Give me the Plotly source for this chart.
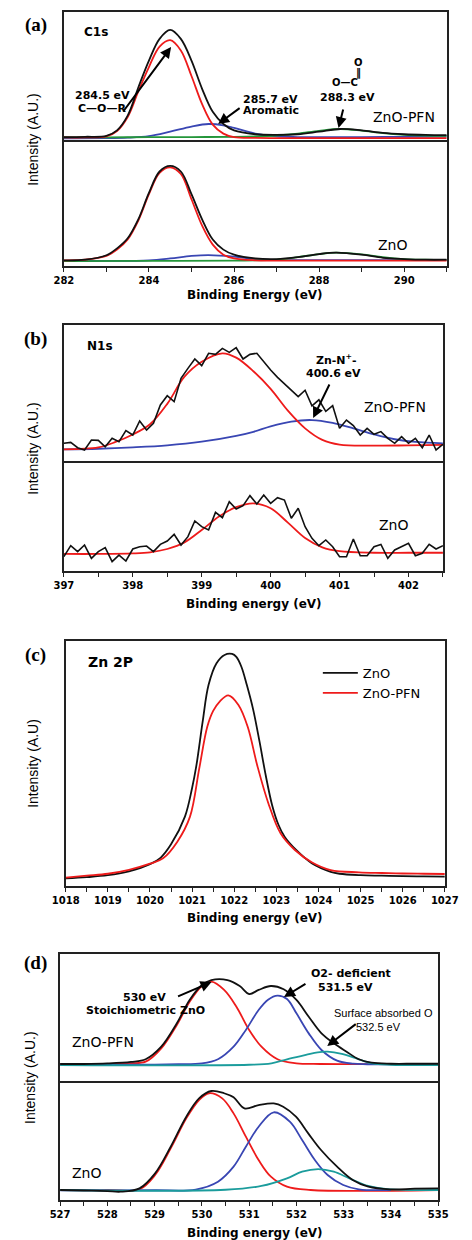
import plotly.graph_objects as go

# ---------------- Panel (a) C1s ----------------
a_top_black_x = [282.0, 282.5, 283.0, 283.25, 283.5, 283.75, 284.0, 284.25, 284.5, 284.75, 285.0, 285.25, 285.5, 285.75, 286.0, 286.5, 287.0, 287.5, 288.0, 288.5, 289.0, 289.5, 290.0, 290.5, 291.0]
a_top_black_y = [2.3, 2.5, 3.2, 7.5, 19, 41, 62, 79, 86, 79, 62, 40, 22, 12.5, 7.5, 4.5, 4.0, 4.5, 6.5, 8.6, 7.5, 5.5, 4.5, 4.0, 3.8]
a_top_red_x = [282.0, 282.5, 283.0, 283.25, 283.5, 283.75, 284.0, 284.25, 284.5, 284.75, 285.0, 285.25, 285.5, 285.75, 286.0, 286.5, 287.0, 288.0, 289.0, 290.0, 291.0]
a_top_red_y = [2.0, 2.0, 2.8, 7.0, 18, 38, 57, 73, 78, 70, 50, 28, 12, 5.0, 2.2, 1.6, 1.5, 1.5, 1.5, 1.5, 1.5]
a_top_blue_x = [282.0, 283.0, 283.5, 284.0, 284.5, 285.0, 285.4, 285.75, 286.0, 286.5, 287.0, 287.5, 288.0, 289.0, 290.0, 291.0]
a_top_blue_y = [1.3, 1.4, 1.8, 3.0, 6.5, 10.5, 12.5, 11.5, 9.5, 5.0, 2.8, 2.3, 2.2, 2.3, 2.5, 2.6]
a_top_green_x = [282.0, 283.0, 284.0, 285.0, 286.0, 286.5, 287.0, 287.5, 288.0, 288.5, 289.0, 289.5, 290.0, 290.5, 291.0]
a_top_green_y = [2.0, 2.1, 2.2, 2.3, 2.5, 2.8, 3.5, 5.0, 7.2, 8.6, 7.3, 5.3, 4.0, 3.4, 3.2]

a_bot_black_x = [282.0, 282.5, 283.0, 283.25, 283.5, 283.75, 284.0, 284.25, 284.5, 284.75, 285.0, 285.25, 285.5, 285.75, 286.0, 286.5, 287.0, 287.5, 288.0, 288.4, 289.0, 289.5, 290.0, 290.5, 291.0]
a_bot_black_y = [4.5, 5.0, 8.5, 14, 22, 37, 58, 75, 79.4, 75, 57, 37, 21, 13, 9, 6, 5.5, 7, 9.5, 10.6, 9, 6.5, 5.5, 5, 5]
a_bot_red_x = [282.0, 282.5, 283.0, 283.25, 283.5, 283.75, 284.0, 284.25, 284.5, 284.75, 285.0, 285.25, 285.5, 285.75, 286.0, 286.5, 287.0, 288.0, 289.0, 290.0, 291.0]
a_bot_red_y = [4.5, 5.0, 8, 13, 21, 36, 57, 74, 78.3, 73, 53, 32, 17, 9, 6, 4.5, 4.3, 4.3, 4.3, 4.3, 4.3]
a_bot_blue_x = [282.0, 283.0, 284.0, 284.5, 285.0, 285.4, 286.0, 286.5, 287.0, 288.0, 289.0, 290.0, 291.0]
a_bot_blue_y = [4.0, 4.0, 4.5, 6.0, 8.0, 8.7, 7.5, 5.5, 4.7, 4.7, 4.7, 4.7, 4.7]
a_bot_green_x = [282.0, 284.0, 286.0, 287.0, 287.5, 288.0, 288.4, 289.0, 289.5, 290.0, 290.5, 291.0]
a_bot_green_y = [3.9, 4.0, 4.2, 5.0, 7.0, 9.5, 10.6, 9.3, 7.0, 5.5, 5.0, 4.8]

# ---------------- Panel (b) N1s ----------------
b_top_data_x = [397.0, 397.1, 397.2, 397.3, 397.4, 397.5, 397.6, 397.7, 397.8, 397.9, 398.0, 398.1, 398.2, 398.3, 398.4, 398.5, 398.6, 398.7, 398.8, 398.9,
                399.0, 399.1, 399.2, 399.3, 399.4, 399.5, 399.6, 399.7, 399.8, 399.9, 400.0, 400.1, 400.2, 400.3, 400.4, 400.5, 400.6, 400.7, 400.8, 400.9,
                401.0, 401.1, 401.2, 401.3, 401.4, 401.5, 401.6, 401.7, 401.8, 401.9, 402.0, 402.1, 402.2, 402.3, 402.4, 402.5]
b_top_data_y = [13.0, 13.7, 9.8, 8.1, 15.4, 15.2, 10.5, 16.7, 14.2, 22.3, 19.1, 29.4, 22.8, 27.7, 41.2, 48.0, 43.6, 60.8, 68.1, 75.0,
                70.1, 79.2, 78.4, 82.8, 79.9, 83.3, 75.0, 78.4, 79.2, 73.0, 66.9, 61.5, 57.0, 52.5, 47.3, 52.0, 40.5, 45.0, 36.5, 40.7,
                24.0, 30.1, 26.0, 19.1, 24.0, 19.6, 21.6, 16.7, 13.0, 17.9, 13.0, 16.7, 9.8, 19.1, 8.1, 12.3]
b_top_red_x = [397.0, 397.5, 397.75, 398.0, 398.25, 398.5, 398.75, 399.0, 399.3, 399.5, 399.75, 400.0, 400.25, 400.5, 400.75, 401.0, 401.5, 402.0, 402.5]
b_top_red_y = [8.6, 10.0, 14, 19.5, 27, 42, 62, 73, 79.2, 76, 66, 53, 37, 24, 15.5, 12, 11.3, 11.5, 11.8]
b_top_blue_x = [397.0, 397.5, 398.0, 398.5, 399.0, 399.5, 399.75, 400.0, 400.3, 400.6, 400.9, 401.2, 401.5, 401.8, 402.1, 402.5]
b_top_blue_y = [8.6, 9.0, 10.0, 11.5, 14.2, 18.5, 21.5, 25.5, 29, 30.1, 28, 24, 19.6, 16, 14, 13.0]

b_bot_data_x = b_top_data_x
b_bot_data_y = [13.0, 23.0, 17.6, 23.6, 11.5, 17.6, 21.2, 8.5, 14.5, 9.1, 20.0, 22.1, 22.7, 17.6, 24.2, 27.3, 33.3, 23.6, 31.2, 45.5,
                40.3, 37.3, 53.3, 48.5, 63.0, 56.4, 59.4, 68.5, 61.0, 69.1, 61.5, 66.7, 64.5, 47.9, 57.0, 40.3, 29.7, 23.0, 28.2, 22.1,
                13.0, 13.0, 29.1, 13.9, 13.9, 22.1, 24.2, 11.5, 19.1, 22.1, 25.2, 13.9, 16.1, 24.2, 20.0, 23.0]
b_bot_red_x = [397.0, 397.5, 398.0, 398.25, 398.5, 398.75, 399.0, 399.25, 399.5, 399.75, 400.0, 400.25, 400.5, 400.75, 401.0, 401.5, 402.0, 402.5]
b_bot_red_y = [15.5, 15.5, 16.0, 17.0, 20, 26, 37.3, 49.5, 58, 61.5, 57, 44, 30, 21.5, 18, 16.6, 16.6, 16.6]

# ---------------- Panel (c) Zn 2P ----------------
c_zno_x = [1018.0, 1018.5, 1019.0, 1019.5, 1020.0, 1020.25, 1020.5, 1020.83, 1021.0, 1021.1, 1021.25, 1021.39, 1021.58, 1021.77, 1021.95, 1022.05, 1022.17,
           1022.3, 1022.45, 1022.6, 1022.75, 1022.9, 1023.05, 1023.2, 1023.47, 1023.84, 1024.29, 1024.5, 1025.0, 1025.5, 1026.0, 1026.5, 1027.0]
c_zno_y = [3.1, 3.6, 4.4, 6.0, 8.9, 11.5, 17, 28.3, 40, 49, 67, 82, 90.9, 94.3, 94.7, 93.5, 89.5,
           82, 72, 59, 45, 33, 25, 20, 14.7, 9.3, 5.8, 5.0, 4.4, 4.2, 4.0, 3.9, 3.8]
c_pfn_x = [1018.0, 1018.5, 1019.0, 1019.5, 1020.0, 1020.31, 1020.65, 1020.95, 1021.17, 1021.36, 1021.5, 1021.65, 1021.86, 1022.1, 1022.32, 1022.55,
           1022.81, 1023.1, 1023.44, 1023.85, 1024.29, 1024.96, 1025.5, 1026.0, 1026.5, 1027.0]
c_pfn_y = [3.4, 4.2, 5.0, 6.6, 9.1, 11.3, 18.1, 28.3, 48, 65, 71.5, 75.2, 77.8, 73.9, 65, 49,
           33.8, 21.5, 14.7, 9.6, 6.5, 5.6, 5.3, 5.1, 5.0, 4.9]

# ---------------- Panel (d) O1s ----------------
d_top_black_x = [527.0, 527.5, 528.0, 528.5, 528.81, 529.14, 529.47, 529.74, 530.0, 530.2, 530.54, 530.8, 531.0, 531.2, 531.46, 531.73, 532.0,
                 532.26, 532.53, 532.79, 533.06, 533.32, 533.59, 534.0, 534.5, 535.0]
d_top_black_y = [13.4, 13.4, 13.8, 15.0, 17.1, 27, 45.4, 63.8, 75.6, 79.5, 79.5, 74.8, 68.5, 71.7, 74.8, 72.2, 63.8,
                 50.6, 37.5, 29.7, 23.1, 17.1, 14.4, 13.6, 13.6, 13.6]
d_top_red_x = [527.0, 528.0, 528.5, 528.81, 529.14, 529.47, 529.74, 530.0, 530.2, 530.47, 530.73, 531.0, 531.26, 531.6, 532.0, 532.5, 535.0]
d_top_red_y = [13.4, 13.4, 14.0, 15.2, 25.7, 44.1, 62.4, 74.8, 78.2, 71.7, 58.5, 40.2, 27, 17.1, 13.9, 13.4, 13.4]
d_top_blue_x = [527.0, 529.0, 529.5, 530.0, 530.34, 530.67, 530.93, 531.2, 531.4, 531.6, 531.8, 532.0, 532.26, 532.53, 532.86, 533.2, 533.5, 535.0]
d_top_blue_y = [12.8, 12.9, 13.2, 13.8, 17.1, 27, 40.2, 55.9, 64, 67.2, 64.5, 53.3, 37.5, 24.4, 16, 13.6, 13.2, 13.2]
d_top_teal_x = [527.0, 531.0, 531.47, 531.8, 532.2, 532.45, 532.66, 532.96, 533.32, 533.6, 534.0, 535.0]
d_top_teal_y = [12.6, 12.8, 13.9, 17.1, 20.5, 22.6, 23.1, 21.3, 17.1, 13.9, 12.8, 12.6]

d_bot_black_x = [527.0, 527.5, 528.0, 528.28, 528.68, 529.01, 529.34, 529.67, 529.94, 530.2, 530.47, 530.67, 530.9, 531.2, 531.52, 531.72, 531.99,
                 532.25, 532.52, 532.86, 533.19, 533.52, 533.98, 534.5, 535.0]
d_bot_black_y = [8.4, 8.0, 7.5, 7.0, 9.8, 22.4, 44.8, 70, 85.4, 91.6, 89.7, 86.3, 77, 79.8, 81.2, 78.4, 70,
                 56, 42, 28, 16.8, 11.2, 9, 9.5, 9.8]
d_bot_red_x = [527.0, 528.0, 528.68, 529.01, 529.34, 529.67, 529.94, 530.15, 530.43, 530.67, 530.93, 531.2, 531.46, 531.8, 532.3, 535.0]
d_bot_red_y = [8.4, 8.4, 9.0, 21, 43.4, 68.6, 84, 89.7, 85.4, 72.8, 53.2, 33.6, 19.6, 11.2, 8.4, 8.4]
d_bot_blue_x = [527.0, 529.0, 529.87, 530.34, 530.67, 530.93, 531.2, 531.52, 531.86, 532.12, 532.39, 532.66, 532.99, 533.32, 534.0]
d_bot_blue_y = [8.2, 8.2, 8.8, 15.4, 28, 44.8, 61.6, 73.7, 65.8, 50.4, 33.6, 21, 12.6, 9, 8.4]
d_bot_teal_x = [527.0, 530.5, 531.26, 531.8, 532.12, 532.46, 532.79, 533.12, 533.52, 533.98, 535.0]
d_bot_teal_y = [8.4, 8.6, 11.8, 18.2, 23.8, 26, 23.8, 18.2, 11.8, 9, 8.4]

# ---------------- layout helpers ----------------
W, H = 472, 1240
SANS = "DejaVu Sans"
ARIAL = "Liberation Sans"
SERIF = "Liberation Serif"
BLACK = "#111111"
RED = "#ee1b1b"
BLUE = "#3946b3"
GREEN = "#24963a"
TEAL = "#1b9c9c"


def X(px):
    return px / W


def Y(py):
    return 1 - py / H


fig = go.Figure()


def add(x, y, color, ax, shape="spline", width=1.8, name=None, legend=False):
    fig.add_trace(go.Scatter(x=x, y=y, mode="lines", line=dict(color=color, width=width, shape=shape),
                             xaxis="x" + ("" if ax == 1 else str(ax)), yaxis="y" + ("" if ax == 1 else str(ax)),
                             name=name, showlegend=legend, hoverinfo="skip"))


# (a)
add(a_top_blue_x, a_top_blue_y, BLUE, 1)
add(a_top_green_x, a_top_green_y, GREEN, 1)
add(a_top_red_x, a_top_red_y, RED, 1)
add(a_top_black_x, a_top_black_y, BLACK, 1)
add(a_bot_blue_x, a_bot_blue_y, BLUE, 2)
add(a_bot_green_x, a_bot_green_y, GREEN, 2)
add(a_bot_red_x, a_bot_red_y, RED, 2)
add(a_bot_black_x, a_bot_black_y, BLACK, 2)
# (b)
add(b_top_blue_x, b_top_blue_y, BLUE, 3)
add(b_top_red_x, b_top_red_y, RED, 3)
add(b_top_data_x, b_top_data_y, BLACK, 3, shape="linear", width=1.6)
add(b_bot_red_x, b_bot_red_y, RED, 4)
add(b_bot_data_x, b_bot_data_y, BLACK, 4, shape="linear", width=1.6)
# (c)
add(c_zno_x, c_zno_y, BLACK, 5, name="ZnO", legend=True)
add(c_pfn_x, c_pfn_y, RED, 5, name="ZnO-PFN", legend=True)
# (d)
add(d_top_red_x, d_top_red_y, RED, 6)
add(d_top_blue_x, d_top_blue_y, BLUE, 6)
add(d_top_teal_x, d_top_teal_y, TEAL, 6)
add(d_top_black_x, d_top_black_y, BLACK, 6)
add(d_bot_red_x, d_bot_red_y, RED, 7)
add(d_bot_blue_x, d_bot_blue_y, BLUE, 7)
add(d_bot_teal_x, d_bot_teal_y, TEAL, 7)
add(d_bot_black_x, d_bot_black_y, BLACK, 7)

# axis boxes: (x0, x1, y0, y1) in pixels, x range, has tick labels, major dtick, minor dtick, draws top line
panels = [
    ((53, 460, 12, 140), [282, 291], False, 2, 1, True),
    ((53, 460, 140, 266), [282, 291], True, 2, 1, False),
    ((53, 456, 325, 461), [397, 402.5], False, 1, 0.5, True),
    ((53, 456, 461, 571), [397, 402.5], True, 1, 0.5, False),
    ((55, 458, 641, 886), [1018, 1027], True, 1, 0.5, True),
    ((49, 451, 954, 1081), [527, 535], False, 1, 0.5, True),
    ((49, 451, 1081, 1200), [527, 535], True, 1, 0.5, False),
]
AXLINE = "#222222"
lay = {}
for i, ((x0, x1, y0, y1), xr, ticks, dt, mdt, top) in enumerate(panels, start=1):
    sfx = "" if i == 1 else str(i)
    xa = dict(domain=[X(x0), X(x1)], range=xr, anchor="y" + sfx, showline=True, mirror=top,
              linecolor=AXLINE, linewidth=1.6, showgrid=False, zeroline=False, fixedrange=True)
    if ticks:
        xa.update(ticks="outside", ticklen=4, tickwidth=1.3, tickcolor=AXLINE, tick0=xr[0], dtick=dt,
                  tickfont=dict(family=SANS, size=10, color="black", weight=700),
                  minor=dict(ticks="outside", ticklen=4, tickwidth=1.3, tickcolor=AXLINE, dtick=mdt, tick0=xr[0], showgrid=False))
    else:
        xa.update(ticks="", showticklabels=False)
    ya = dict(domain=[Y(y1), Y(y0)], range=[0, 100], anchor="x" + sfx, showline=True, mirror=True,
              linecolor=AXLINE, linewidth=1.6, showgrid=False, zeroline=False, ticks="",
              showticklabels=False, fixedrange=True)
    lay["xaxis" + sfx] = xa
    lay["yaxis" + sfx] = ya

ann = []


def txt(px, py, s, size, bold=False, family=SANS, xanchor="center", angle=0):
    ann.append(dict(x=X(px), y=Y(py), xref="paper", yref="paper", text=s, showarrow=False,
                    xanchor=xanchor, yanchor="middle", textangle=angle,
                    font=dict(family=family, size=size, color="black", weight=700 if bold else 400)))


def arrow(hx, hy, tx, ty):
    ann.append(dict(x=X(hx), y=Y(hy), xref="paper", yref="paper", ax=tx - hx, ay=ty - hy, text="",
                    showarrow=True, arrowhead=2, arrowsize=1.1, arrowwidth=2, arrowcolor="black", standoff=0))


# panel letters
for lbl, py in [("(a)", 25), ("(b)", 339), ("(c)", 655), ("(d)", 963)]:
    txt(23, py, lbl, 19, bold=True, family=SERIF)

# (a) labels
txt(72, 32, "C1s", 12, bold=True, xanchor="left")
txt(94, 96, "284.5 eV", 11, bold=True)
txt(94, 109, "C—O—R", 11, bold=True)
txt(273, 99, "285.7 eV", 11, bold=True)
txt(273, 111, "Aromatic", 11, bold=True)
txt(366, 63, "O", 10, bold=True)
txt(366, 73, "‖", 10, bold=True)
txt(352, 83, "O—C", 10, bold=True)
txt(355, 98, "288.3 eV", 11, bold=True)
txt(415, 117, "ZnO-PFN", 14)
txt(402, 245, "ZnO", 14)
txt(256, 295, "Binding Energy (eV)", 12, bold=True)
txt(20, 139, "Intensity (A.U.)", 14, family=ARIAL, angle=-90)
arrow(167, 47, 118, 113)
arrow(217, 124, 240, 107)
arrow(345, 128, 350, 108)

# (b) labels
txt(76, 346, "N1s", 12, bold=True, xanchor="left")
txt(343, 360, "Zn-N<sup>+</sup>-", 11, bold=True)
txt(340, 373, "400.6 eV", 11, bold=True)
txt(405, 407, "ZnO-PFN", 14)
txt(403, 525, "ZnO", 14)
txt(255, 604, "Binding energy (eV)", 12, bold=True)
txt(20, 448, "Intensity (A.U.)", 14, family=ARIAL, angle=-90)
arrow(318, 418, 335, 383)

# (c) labels
txt(77, 662, "Zn 2P", 14, bold=True, xanchor="left")
txt(256, 918, "Binding energy (eV)", 12, bold=True)
txt(20, 763, "Intensity (A.U)", 14, family=ARIAL, angle=-90)

# (d) labels
txt(139, 997, "530 eV", 11, bold=True)
txt(140, 1010, "Stoichiometric ZnO", 11, bold=True)
txt(358, 973, "O2- deficient", 11, bold=True)
txt(352, 987, "531.5 eV", 11, bold=True)
txt(393, 1013, "Surface absorbed O", 11, family=ARIAL)
txt(388, 1027, "532.5 eV", 11, family=ARIAL)
txt(59, 1042, "ZnO-PFN", 14, xanchor="left")
txt(60, 1173, "ZnO", 14, xanchor="left")
txt(256, 1233, "Binding energy (eV)", 12, bold=True)
txt(17, 1077, "Intensity (A.U.)", 14, family=ARIAL, angle=-90)
arrow(210, 982, 175, 997)
arrow(287, 997, 310, 983)
arrow(333, 1046, 363, 1023)

fig.update_layout(
    width=W, height=H, autosize=False,
    margin=dict(l=0, r=0, t=0, b=0, pad=0),
    paper_bgcolor="white", plot_bgcolor="white",
    showlegend=True,
    legend=dict(x=X(323), y=Y(658), xanchor="left", yanchor="top", bgcolor="rgba(0,0,0,0)",
                font=dict(family=SANS, size=13, color="black"), tracegroupgap=0, itemwidth=35,
                borderwidth=0),
    annotations=ann,
    **lay,
)

fig.write_html("out.html", config={"displayModeBar": False},
               post_script="document.body.style.margin='0px';document.body.style.overflow='hidden';")
